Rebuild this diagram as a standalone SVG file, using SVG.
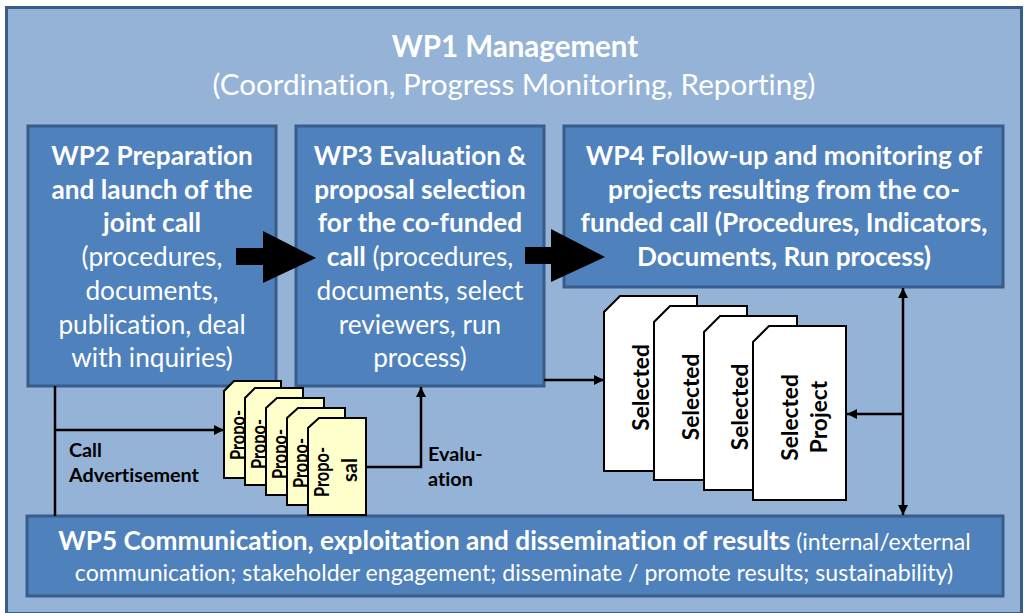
<svg xmlns="http://www.w3.org/2000/svg" width="1024" height="613" viewBox="0 0 1024 613">
<style>
text{font-family:"Lato","Open Sans","Liberation Sans",sans-serif;font-variant-ligatures:none}
.box{fill:#4f81bd;stroke:#385d8a;stroke-width:3}
.w{fill:#fff;font-size:26.2px;text-anchor:middle}
.b{font-weight:700}
.k{fill:#000;font-size:19.8px;font-weight:700}
.v{fill:#000;font-size:22.7px;font-weight:700;text-anchor:middle}
.p{fill:#000;font-size:20px;font-weight:700;text-anchor:middle}
.ln{fill:none;stroke:#000;stroke-width:2.5}
.pc{fill:#ffffcc;stroke:#000;stroke-width:2}
.sc{fill:#fff;stroke:#000;stroke-width:2}
</style>
<defs>
<marker id="a" markerUnits="userSpaceOnUse" markerWidth="12" markerHeight="12" refX="10" refY="5" orient="auto-start-reverse"><path d="M0 0L10 5L0 10Z" fill="#000"/></marker>
</defs>
<rect width="1024" height="613" fill="#fff"/>
<g id="wp1"><rect x="6.500" y="7.500" width="1015" height="606" fill="#95b3d7" stroke="#385d8a" stroke-width="3"/>
<text class="w b" x="515" y="57" style="font-size:29.5px">WP1 Management</text>
<text class="w" x="514" y="95" style="font-size:29.6px">(Coordination, Progress Monitoring, Reporting)</text></g>
<g id="wp2"><rect class="box" x="28" y="126" width="248" height="260"/>
<text class="w b" x="152" y="165">WP2 Preparation</text>
<text class="w b" x="152" y="199">and launch of the</text>
<text class="w b" x="152" y="232">joint call</text>
<text class="w" x="152" y="266">(procedures,</text>
<text class="w" x="152" y="300">documents,</text>
<text class="w" x="152" y="334">publication, deal</text>
<text class="w" x="152" y="367">with inquiries)</text></g>
<g id="wp3"><rect class="box" x="296" y="126" width="248" height="260"/>
<text class="w b" x="420" y="165">WP3 Evaluation &amp;</text>
<text class="w b" x="420" y="199">proposal selection</text>
<text class="w b" x="420" y="232">for the co-funded</text>
<text class="w" x="420" y="266"><tspan class="b">call</tspan> (procedures,</text>
<text class="w" x="420" y="300">documents, select</text>
<text class="w" x="420" y="334">reviewers, run</text>
<text class="w" x="420" y="367">process)</text></g>
<g id="wp4"><rect class="box" x="564" y="126" width="439" height="161"/>
<text class="w b" x="784" y="165">WP4 Follow-up and monitoring of</text>
<text class="w b" x="784" y="199">projects resulting from the co-</text>
<text class="w b" x="784" y="232">funded call (Procedures, Indicators,</text>
<text class="w b" x="784" y="266">Documents, Run process)</text></g>
<g id="wp5"><rect class="box" x="27" y="516" width="976" height="80"/>
<text class="w" x="514.500" y="550" style="font-size:23.100px"><tspan class="b" style="font-size:26.200px">WP5 Communication, exploitation and dissemination of results</tspan> (internal/external</text>
<text class="w" x="514" y="581" style="font-size:23.100px">communication; stakeholder engagement; disseminate / promote results; sustainability)</text></g>
<g id="connectors">
<path class="ln" d="M55 386V516"/>
<path class="ln" d="M55 430H224" marker-end="url(#a)"/>
<path class="ln" d="M366 467H421V387" marker-end="url(#a)"/>
<path class="ln" d="M544 380H604" marker-end="url(#a)"/>
<path class="ln" d="M903 288V515" marker-start="url(#a)" marker-end="url(#a)"/>
<path class="ln" d="M903 414H847" marker-end="url(#a)"/>
<path d="M236 248H263V231L316 258L263 283V265H236Z" fill="#000"/>
<path d="M525 247H551V229L605 257L551 282V264H525Z" fill="#000"/>
</g>
<g id="label-call"><text class="k" x="69" y="457">Call</text><text class="k" x="69" y="482">Advertisement</text></g>
<g id="label-eval"><text class="k" x="428" y="461">Evalu-</text><text class="k" x="428" y="486">ation</text></g>
<g id="proposal-1"><path class="pc" d="M234 381H281V478H224V391Z"/><text class="p" textLength="50" lengthAdjust="spacingAndGlyphs" transform="translate(244.500 435) rotate(-90)">Propo-</text></g>
<g id="proposal-2"><path class="pc" d="M255 388H303V485H245V398Z"/><text class="p" textLength="50" lengthAdjust="spacingAndGlyphs" transform="translate(265.500 444) rotate(-90)">Propo-</text></g>
<g id="proposal-3"><path class="pc" d="M277 398H324V495H266V408Z"/><text class="p" textLength="50" lengthAdjust="spacingAndGlyphs" transform="translate(287 454) rotate(-90)">Propo-</text></g>
<g id="proposal-4"><path class="pc" d="M298 408H345V505H287V418Z"/><text class="p" textLength="50" lengthAdjust="spacingAndGlyphs" transform="translate(308 463) rotate(-90)">Propo-</text></g>
<g id="proposal-5"><path class="pc" d="M319 418H366V515H308V428Z"/><text class="p" textLength="50" lengthAdjust="spacingAndGlyphs" transform="translate(329 472) rotate(-90)">Propo-</text><text class="p" textLength="24" lengthAdjust="spacingAndGlyphs" transform="translate(357 470) rotate(-90)">sal</text></g>
<g id="selected-1"><path class="sc" d="M620 296H697V471H604V312Z"/><text class="v" transform="translate(649 387.500) rotate(-90)">Selected</text></g>
<g id="selected-2"><path class="sc" d="M670 306H747V480H654V322Z"/><text class="v" transform="translate(699 397) rotate(-90)">Selected</text></g>
<g id="selected-3"><path class="sc" d="M720 316H797V490H704V332Z"/><text class="v" transform="translate(748 407) rotate(-90)">Selected</text></g>
<g id="selected-4"><path class="sc" d="M769 326H846V500H753V342Z"/><text class="v" transform="translate(798 417.500) rotate(-90)">Selected</text><text class="v" transform="translate(827 417) rotate(-90)">Project</text></g>
</svg>
